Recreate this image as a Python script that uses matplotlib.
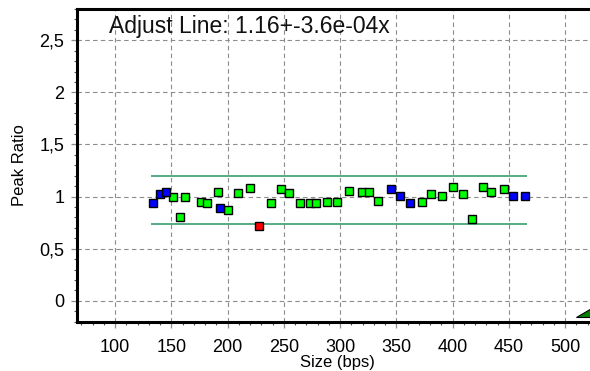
import numpy as np
import matplotlib
matplotlib.use("Agg")
import matplotlib.pyplot as plt
from matplotlib.ticker import FuncFormatter, MultipleLocator
from matplotlib.patches import Polygon

plt.rcParams['font.family'] = ['Liberation Sans', 'DejaVu Sans']

# fragment sizes (bps) and peak ratios, with the flag of each peak
sizes = [133.2, 140.0, 145.1, 151.3, 157.8, 162.2, 176.2, 181.5, 190.9, 193.3,
         200.2, 208.7, 219.4, 227.4, 238.7, 247.3, 254.4, 264.4, 273.3, 278.7,
         288.2, 297.1, 307.4, 319.3, 326.0, 334.0, 345.1, 353.3, 362.2, 372.6,
         380.6, 390.4, 400.2, 409.1, 417.1, 426.5, 434.2, 445.2, 453.5, 464.4]
ratios = [0.937, 1.026, 1.042, 0.994, 0.802, 0.994, 0.952, 0.937, 1.042, 0.889,
          0.872, 1.038, 1.081, 0.721, 0.937, 1.074, 1.038, 0.937, 0.937, 0.937,
          0.952, 0.952, 1.055, 1.042, 1.042, 0.959, 1.074, 1.010, 0.937, 0.952,
          1.023, 1.007, 1.096, 1.023, 0.783, 1.090, 1.042, 1.074, 1.010, 1.010]
flags = ['b', 'b', 'b', 'g', 'g', 'g', 'g', 'g', 'g', 'b',
         'g', 'g', 'g', 'r', 'g', 'g', 'g', 'g', 'g', 'g',
         'g', 'g', 'g', 'g', 'g', 'g', 'b', 'b', 'b', 'g',
         'g', 'g', 'g', 'g', 'g', 'g', 'g', 'g', 'b', 'b']

upper_limit = 1.20
lower_limit = 0.74
fit_label = "Adjust Line: 1.16+-3.6e-04x"

flag_colors = {'g': '#00ff00', 'b': '#0000ff', 'r': '#ff0000'}

fig = plt.figure(figsize=(5.9, 3.71), dpi=100, facecolor='white')
ax = fig.add_axes([0.1305, 0.132, 0.8695, 0.8437])

ax.set_xlim(66, 522)
ax.set_ylim(-0.204, 2.80)

# dashed grid behind everything
ax.set_axisbelow(True)
ax.grid(True, which='major', color='#8c8c8c', linestyle=(0, (4, 3)), linewidth=0.8)

# limit lines across the sized range
ax.hlines([upper_limit, lower_limit], min(sizes) - 1.5, max(sizes) + 1.5,
          color='#3a9e70', linewidth=1.2, zorder=2)

for f in ['g', 'b', 'r']:
    xs = [s for s, k in zip(sizes, flags) if k == f]
    ys = [r for r, k in zip(ratios, flags) if k == f]
    ax.plot(xs, ys, linestyle='none', marker='s', markersize=5.4,
            markerfacecolor=flag_colors[f], markeredgecolor='black',
            markeredgewidth=1.0, zorder=3)

# scroll marker in the lower right corner
ax.add_patch(Polygon([(0.973, 0.016), (1.03, 0.016), (1.03, 0.07)],
                     closed=True, transform=ax.transAxes, facecolor='#008000',
                     edgecolor='black', linewidth=0.8, clip_on=True, zorder=4))

ax.text(0.063, 0.923, fit_label, transform=ax.transAxes, fontsize=16.5,
        va='baseline', ha='left', color='#111111')

ax.xaxis.set_major_locator(MultipleLocator(50))
ax.xaxis.set_minor_locator(MultipleLocator(10))
ax.yaxis.set_major_locator(MultipleLocator(0.5))
ax.yaxis.set_minor_locator(MultipleLocator(0.1))
ax.yaxis.set_major_formatter(FuncFormatter(lambda v, p: f"{v:g}".replace('.', ',')))

ax.tick_params(which='major', direction='out', length=4, width=0.9,
               color='#8c8c8c', labelsize=13, top=False, right=False)
ax.tick_params(which='minor', direction='out', length=2.5, width=0.8,
               color='#555555', top=False, right=False)
ax.tick_params(axis='x', which='major', pad=8)
ax.tick_params(axis='y', which='major', pad=5)

for side in ['left', 'bottom', 'top']:
    ax.spines[side].set_linewidth(2.2)
    ax.spines[side].set_color('black')
ax.spines['right'].set_visible(False)

fig.text(0.572, 0.002, "Size (bps)", fontsize=12, ha='center', va='bottom')
ax.set_ylabel("Peak Ratio", fontsize=12)
ax.yaxis.set_label_coords(-0.097, 0.5)

fig.savefig("out.png", dpi=100, facecolor='white')
